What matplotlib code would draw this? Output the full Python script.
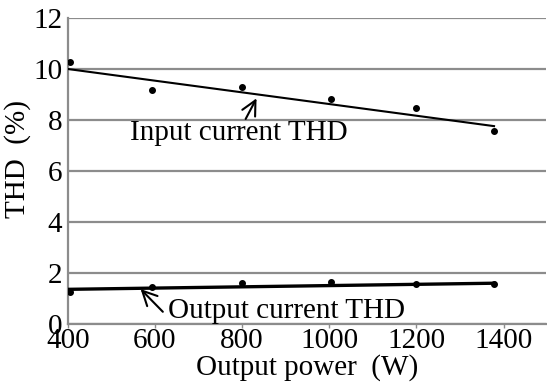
import matplotlib
matplotlib.use("Agg")
import matplotlib.pyplot as plt

# Data
power_in = [405, 593, 800, 1005, 1200, 1378]
thd_in = [10.27, 9.16, 9.30, 8.82, 8.47, 7.58]
power_out = [405, 593, 800, 1005, 1200, 1378]
thd_out = [1.27, 1.44, 1.61, 1.63, 1.57, 1.57]

trend_x = [400, 1378]
trend_in = [10.0, 7.76]
trend_out = [1.36, 1.60]

x_ticks = [400, 600, 800, 1000, 1200, 1400]
y_ticks = [0, 2, 4, 6, 8, 10, 12]

plt.rcParams['font.family'] = ['Liberation Serif', 'DejaVu Serif']

fig = plt.figure(figsize=(5.47, 3.83), dpi=100)
ax = fig.add_axes([0.124, 0.154, 0.874, 0.799])

grid_c = '#8c8c8c'
ax.set_xlim(400, 1497)
ax.set_ylim(0, 12)
ax.set_xticks(x_ticks)
ax.set_yticks(y_ticks)
ax.yaxis.grid(True, color=grid_c, linewidth=1.6)
ax.set_axisbelow(True)
for s in ['top', 'right']:
    ax.spines[s].set_visible(False)
for s in ['left', 'bottom']:
    ax.spines[s].set_color(grid_c)
    ax.spines[s].set_linewidth(1.6)
ax.tick_params(axis='x', length=3, width=1, color=grid_c, labelsize=21, pad=0)
ax.tick_params(axis='y', length=0, labelsize=21, pad=4)

ax.plot(trend_x, trend_in, color='black', linewidth=1.5, zorder=3)
ax.plot(trend_x, trend_out, color='black', linewidth=2.4, zorder=3)
ax.scatter(power_in, thd_in, s=16, color='black', zorder=4)
ax.scatter(power_out, thd_out, s=16, color='black', zorder=4)

ax.text(542, 7.22, 'Input current THD', fontsize=21, ha='left', va='baseline')
ax.annotate('', xy=(833, 8.85), xytext=(808, 8.04),
            arrowprops=dict(arrowstyle='->', color='black', lw=1.5,
                            mutation_scale=26, shrinkA=0, shrinkB=0))
ax.text(629, 0.22, 'Output current THD', fontsize=21, ha='left', va='baseline')
ax.annotate('', xy=(567, 1.37), xytext=(618, 0.48),
            arrowprops=dict(arrowstyle='->', color='black', lw=1.5,
                            mutation_scale=26, shrinkA=0, shrinkB=0))

ax.set_xlabel('Output power  (W)', fontsize=21, labelpad=0)
ax.set_ylabel('THD  (%)', fontsize=21)
ax.yaxis.set_label_coords(-0.077, 0.539)

fig.savefig('out.png', dpi=100)
